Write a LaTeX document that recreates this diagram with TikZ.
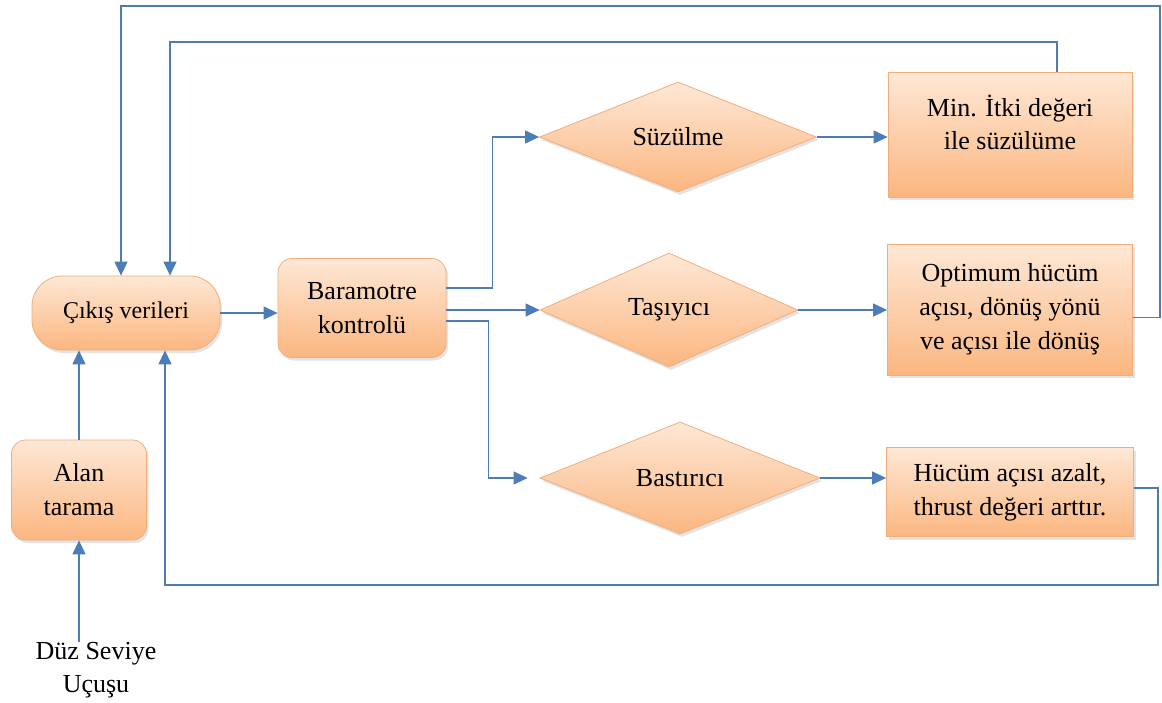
\documentclass[tikz,border=0pt]{standalone}
\usepackage{fontspec}
\setmainfont{Liberation Serif}
\usetikzlibrary{shapes.geometric,arrows.meta,shadows,calc}
\definecolor{lineblue}{HTML}{4F7DB3}
\definecolor{tipblue}{HTML}{4A7EBB}
\definecolor{peachtop}{HTML}{FEE8D6}
\definecolor{peachbot}{HTML}{FBB680}
\definecolor{peachline}{HTML}{F2AE7A}

\begin{document}
\begin{tikzpicture}[x=1pt,y=-1pt,
  shape box/.style={draw=peachline, line width=0.8pt,
    top color=peachtop, bottom color=peachbot,
    drop shadow={opacity=0.22, shadow xshift=2pt, shadow yshift=-3pt},
    align=center, inner sep=0pt, font=\fontsize{26}{34}\selectfont},
  roundbox/.style={shape box, rounded corners=14pt},
  squarebox/.style={shape box},
  decision/.style={shape box, diamond, drop shadow={opacity=0}},
  txt/.style={align=center, inner sep=0pt, font=\fontsize{26}{33}\selectfont},
  flow/.style={draw=lineblue, line width=1.3pt,
    -{Triangle[length=14pt,width=13pt,fill=tipblue]}},
]
\useasboundingbox (0,0) rectangle (1162,702);
\fill[white] (0,0) rectangle (1162,702);

% left column
\node[shape box, rounded corners=30pt, minimum width=188pt, minimum height=74pt,
      font=\fontsize{24}{30}\selectfont] (cik) at (126,313) {Çıkış verileri};
\node[roundbox, minimum width=135pt, minimum height=100pt] (alan) at (79,490) {Alan\\tarama};
\node[txt] (duz) at (96,670) {Düz Seviye\\Uçuşu};

% control
\node[roundbox, minimum width=168pt, minimum height=99pt] (bar) at (362,308) {Baramotre\\kontrolü};

% decisions
\node[decision, minimum width=277pt, minimum height=110pt] (suz) at (678,137) {Süzülme};
\node[decision, minimum width=258pt, minimum height=114pt] (tas) at (669,310) {Taşıyıcı};
\node[decision, minimum width=280pt, minimum height=112pt] (bas) at (680,478) {Bastırıcı};

% actions
\node[squarebox, minimum width=244pt, minimum height=125pt] (min) at (1010,134.5) {};
\node[txt] (mintxt) at ($(min.center)+(0,-12)$) {Min. İtki değeri\\ile süzülüme};
\node[squarebox, minimum width=245pt, minimum height=131pt] (opt) at (1010,309.5)
  {Optimum hücüm\\açısı, dönüş yönü\\ve açısı ile dönüş};
\node[squarebox, minimum width=247pt, minimum height=89pt] (huc) at (1010,492)
  {Hücüm açısı azalt,\\thrust değeri arttır.};

% loop corners
\coordinate (r1) at (1160,6);
\coordinate (r2) at (170,42);
\coordinate (r3) at (1158,585);

% forward connectors
\draw[flow] (alan.south |- duz.north) -- (alan.south);
\draw[flow] (alan.north) -- (alan.north |- cik.south);
\draw[flow] (cik.east) -- (cik.east -| bar.west);
\draw[flow] ([yshift=20pt]bar.east) -- ++(46,0) |- (suz.west);
\draw[flow] (bar.east |- tas.west) -- (tas.west);
\draw[flow] ([yshift=-13pt]bar.east) -- ++(42,0) |- ([xshift=-12pt]bas.west);
\draw[flow] (suz.east) -- (suz.east -| min.west);
\draw[flow] (tas.east) -- (tas.east -| opt.west);
\draw[flow] (bas.east) -- (bas.east -| huc.west);

% feedback loops
\draw[flow] ([yshift=-8pt]opt.east) -| (r1) -| ([xshift=-5pt]cik.north);
\draw[flow] ([xshift=47pt]min.north) |- (r2) -- (r2 |- cik.north);
\draw[flow] ([yshift=4pt]huc.east) -| (r3) -| ([xshift=39pt]cik.south);
\end{tikzpicture}
\end{document}
